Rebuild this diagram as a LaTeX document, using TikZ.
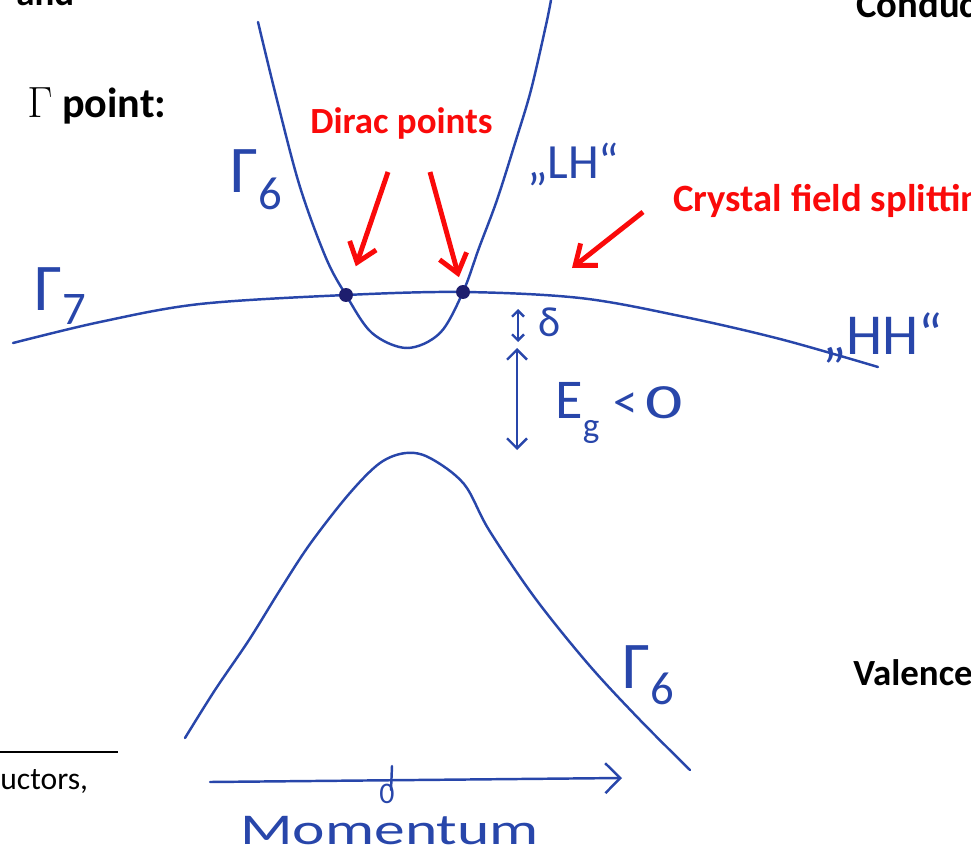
\documentclass[tikz,border=0pt]{standalone}
\usepackage{fontspec}
\setmainfont{Carlito}
\usetikzlibrary{arrows.meta, positioning}

\definecolor{inkblue}{RGB}{40,70,170}
\definecolor{dotblue}{RGB}{30,30,110}
\definecolor{slidered}{RGB}{250,10,10}

\begin{document}
\begin{tikzpicture}[x=0.02cm, y=-0.02cm,
        band/.style={inkblue, line width=1.4pt, line cap=round, line join=round},
        dot/.style={circle, fill=dotblue, inner sep=0pt, minimum size=0.28cm},
        redarr/.style={-{Straight Barb[length=3.6mm,width=5.6mm]}, slidered, line width=2.8pt},
        slide/.style={font=\fontsize{21}{24}\selectfont\bfseries, inner sep=0pt, anchor=base west},
        hand/.style={inkblue, inner sep=0pt, anchor=base west}]
      \useasboundingbox (0,0) rectangle (971,848);
      \clip (0,0) rectangle (971,848);

      % slide texts
      \node[slide] (andtxt) at (16,6) {and};
      \node[slide, font=\fontsize{24}{26}\selectfont\bfseries] (gpoint) at (27,118)
        {{\fontsize{31}{31}\selectfont\mdseries$\Gamma$} point:};
      \node[slide, font=\fontsize{22}{24}\selectfont\bfseries] (conduc) at (856,18) {Conduc};
      \node[slide] (valence) at (853,685) {Valence};
      \node[slide, font=\fontsize{18}{20}\selectfont] (uctors) at (0,789) {uctors,};
      \draw[black, line width=0.7pt] (0,752) -- (118,752);
      \node[slide, slidered] (dirac) at (310,133) {Dirac points};
      \node[slide, slidered, font=\fontsize{22}{24}\selectfont\bfseries] (cfs) at (673,212) {Crystal field splittin};

      % bands
      \draw[band] plot[smooth, tension=0.55] coordinates {(13,343) (100,322) (200,304)
        (346,295) (463,292) (580,298) (680,316) (780,339) (878,367)};
      \draw[band] plot[smooth, tension=0.55] coordinates {(258,22) (277,100) (300,187)
        (326,258) (346,295) (372,333) (407,348) (440,333) (463,292) (479,248)
        (497,200) (516,140) (531,90) (546,25) (551,0)};
      \draw[band] plot[smooth, tension=0.55] coordinates {(185,738) (215,690) (249,640)
        (280,590) (310,544) (349,494) (380,463) (406,453) (430,458) (464,484)
        (489,530) (535,598) (589,665) (640,720) (690,770)};

      \node[dot] (dpL) at (346,295) {};
      \node[dot] (dpR) at (463,292) {};

      % red arrows
      \coordinate (diracL) at (388,172);
      \coordinate (diracR) at (430,172);
      \coordinate (cfsTail) at (643,212);
      \coordinate (cfsTip) at (572,268);
      \draw[redarr, shorten >=0.46cm] (diracL) -- (dpL);
      \draw[redarr, shorten >=0.16cm] (diracR) -- (dpR);
      \draw[redarr] (cfsTail) -- (cfsTip);

      % hand labels
      \node[hand, font=\fontsize{38}{38}\selectfont] (g6up) at (230,193) {Γ\textsubscript{6}};
      \node[hand, font=\fontsize{38}{38}\selectfont] (g7) at (34,310) {Γ\textsubscript{7}};
      \node[hand, font=\fontsize{38}{38}\selectfont] (g6low) at (622,688) {Γ\textsubscript{6}};
      \node[hand, font=\fontsize{28}{28}\selectfont] (lh) at (527,178) {„LH“};
      \node[hand, font=\fontsize{33}{33}\selectfont] (hh) at (822,354) {„HH“};
      \node[hand, font=\fontsize{24}{24}\selectfont] (delta) at (538,336) {δ};
      \node[hand, font=\fontsize{32}{32}\selectfont] (eg) at (555,418)
        {E\raisebox{-0.35em}{\fontsize{20}{20}\selectfont g}\hspace{0.25em}{\fontsize{28}{28}\selectfont <\hspace{0.15em}\scalebox{1.5}[1]{0}}};

      % gaps
      \coordinate (dTop) at (518,309);
      \coordinate (dBot) at (518,342);
      \coordinate (egTop) at (517,348);
      \coordinate (egBot) at (517,450);
      \draw[band, {Straight Barb[length=1.2mm,width=2.4mm]}-{Straight Barb[length=1.2mm,width=2.4mm]}] (dTop) -- (dBot);
      \draw[band, {Straight Barb[length=2mm,width=4mm]}-{Straight Barb[length=2mm,width=4mm]}] (egTop) -- (egBot);

      % momentum axis
      \coordinate (kL) at (210,782);
      \coordinate (kR) at (622,778);
      \coordinate (tickTop) at (392,766);
      \coordinate (tickBot) at (391,790);
      \draw[band, -{Straight Barb[length=3mm,width=6mm]}] (kL) -- (kR);
      \draw[band] (tickTop) -- (tickBot);
      \node[hand, anchor=center, font=\fontsize{17}{17}\selectfont] (zero) at (387,794) {0};
      \node[hand, font=\fontsize{25}{25}\selectfont] (mom) at (240,844) {\scalebox{1.4}[1]{Momentum}};
\end{tikzpicture}
\end{document}
